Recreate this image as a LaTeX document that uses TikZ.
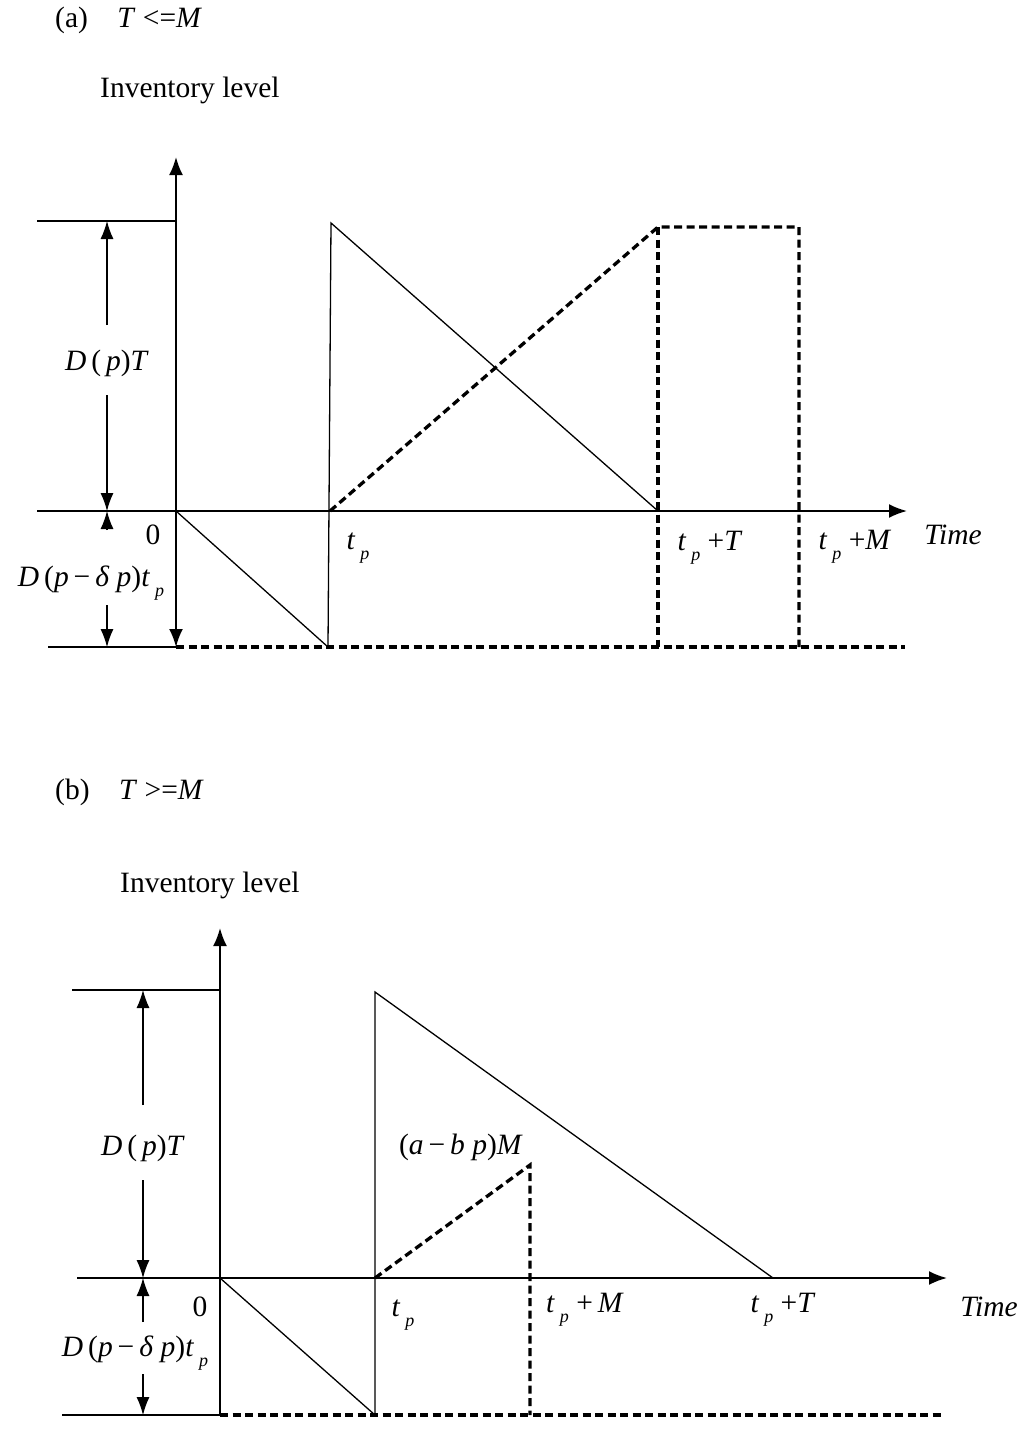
\documentclass[tikz,border=0pt]{standalone}
\usepackage{fontspec}
\setmainfont{Liberation Serif}
\usetikzlibrary{arrows.meta}
\newcommand{\sbp}{\,\raisebox{-0.35em}{\fontsize{18}{20}\selectfont\itshape p}}
\newcommand{\mns}{\,−\,}
\begin{document}
\begin{tikzpicture}[x=1pt,y=-1pt,
  lab/.style={inner sep=0pt,font=\fontsize{29.5}{35}\selectfont},
  axis/.style={line width=2pt,-{Latex[length=18pt,width=14pt]}},
  axisboth/.style={line width=2pt,{Latex[length=18pt,width=14pt]}-{Latex[length=18pt,width=14pt]}},
  thin/.style={line width=1.3pt},
  dim/.style={line width=1.1pt,-{Latex[length=18pt,width=13pt]}},
  dsh/.style={line width=3.3pt,dash pattern=on 8pt off 4.5pt}]
\useasboundingbox (0,0) rectangle (1022,1433);

% ---------------- Panel (a) ----------------
\node[lab,anchor=west] (ta) at (55,20) {(a)\quad \textit{T} <=\textit{M}};
\node[lab,anchor=west] (ila) at (100,90) {Inventory level};

\coordinate (a0) at (176,511);
\coordinate (aytop) at (176,157);
\coordinate (aybot) at (176,647);
\coordinate (axl) at (37,511);
\coordinate (axr) at (907,511);
\draw[axisboth] (aybot) -- (aytop);
\draw[axis] (axl) -- (axr);

\coordinate (atopl) at (37,221);
\coordinate (atopr) at (176,221);
\draw[thin] (atopl) -- (atopr);
\coordinate (abotl) at (48,647);
\draw[thin] (abotl) -- (aybot);

% dimension arrows
\node[lab] (adT) at (107,363) {\textit{D}\,(\,\textit{p})\textit{T}};
\coordinate (ad1) at (107,325);
\coordinate (ad1e) at (107,221);
\coordinate (ad2) at (107,395);
\coordinate (ad2e) at (107,511);
\draw[dim] (ad1) -- (ad1e);
\draw[dim] (ad2) -- (ad2e);
\node[lab] (adl) at (91,583) {\textit{D}\,(\textit{p}\mns\textit{δ} \textit{p})\textit{t}\sbp};
\coordinate (ad3) at (107,530);
\coordinate (ad3e) at (107,511);
\coordinate (ad4) at (107,605);
\coordinate (ad4e) at (107,647);
\draw[dim] (ad3) -- (ad3e);
\draw[dim] (ad4) -- (ad4e);

% sawtooth
\coordinate (as1) at (328,647);
\coordinate (as2) at (331,223);
\coordinate (as3) at (658,511);
\draw[thin,line join=miter] (a0) -- (as1) -- (as2) -- (as3);

% dashed
\coordinate (ad0) at (330,511);
\coordinate (adp) at (658,227);
\coordinate (adq) at (799,227);
\coordinate (adqb) at (799,647);
\coordinate (adpb) at (658,647);
\coordinate (adend) at (905,647);
\draw[dsh] (ad0) -- (adp) -- (adq) -- (adqb);
\draw[dsh] (adp) -- (adpb);
\draw[dsh] (aybot) -- (adend);

\node[lab] (a0l) at (153,535) {0};
\node[lab] (atp) at (358,548) {\textit{t}\sbp};
\node[lab] (atpT) at (710,548) {\textit{t}\sbp\ +\textit{T}};
\node[lab] (atpM) at (855,547) {\textit{t}\sbp\ +\textit{M}};
\node[lab] (atime) at (953,535) {\textit{Time}};

% ---------------- Panel (b) ----------------
\node[lab,anchor=west] (tb) at (55,792) {(b)\quad \textit{T} >=\textit{M}};
\node[lab,anchor=west] (ilb) at (120,885) {Inventory level};

\coordinate (b0) at (220,1278);
\coordinate (bytop) at (220,928);
\coordinate (bybot) at (220,1415);
\coordinate (bxl) at (77,1278);
\coordinate (bxr) at (947,1278);
\draw[axis] (bybot) -- (bytop);
\draw[axis] (bxl) -- (bxr);

\coordinate (btopl) at (72,990);
\coordinate (btopr) at (220,990);
\draw[thin] (btopl) -- (btopr);
\coordinate (bbotl) at (62,1415);
\draw[thin] (bbotl) -- (bybot);

\node[lab] (bdT) at (143,1148) {\textit{D}\,(\,\textit{p})\textit{T}};
\coordinate (bd1) at (143,1105);
\coordinate (bd1e) at (143,990);
\coordinate (bd2) at (143,1180);
\coordinate (bd2e) at (143,1278);
\draw[dim] (bd1) -- (bd1e);
\draw[dim] (bd2) -- (bd2e);
\node[lab] (bdl) at (135,1353) {\textit{D}\,(\textit{p}\mns\textit{δ} \textit{p})\textit{t}\sbp};
\coordinate (bd3) at (143,1322);
\coordinate (bd3e) at (143,1278);
\coordinate (bd4) at (143,1374);
\coordinate (bd4e) at (143,1415);
\draw[dim] (bd3) -- (bd3e);
\draw[dim] (bd4) -- (bd4e);

\coordinate (bs1) at (375,1415);
\coordinate (bs2) at (375,992);
\coordinate (bs3) at (773,1278);
\draw[thin,line join=miter] (b0) -- (bs1) -- (bs2) -- (bs3);

\coordinate (bdd0) at (375,1278);
\coordinate (bddp) at (530,1165);
\coordinate (bddpb) at (530,1415);
\coordinate (bdend) at (943,1415);
\draw[dsh] (bdd0) -- (bddp) -- (bddpb);
\draw[dsh] (bybot) -- (bdend);

\node[lab] (bab) at (461,1147) {(\textit{a}\mns\textit{b} \textit{p})\textit{M}};
\node[lab] (b0l) at (200,1307) {0};
\node[lab] (btp) at (403,1315) {\textit{t}\sbp};
\node[lab] (btpM) at (585,1310) {\textit{t}\sbp\ +\,\textit{M}};
\node[lab] (btpT) at (783,1310) {\textit{t}\sbp\ +\textit{T}};
\node[lab] (btime) at (989,1307) {\textit{Time}};
\end{tikzpicture}
\end{document}
